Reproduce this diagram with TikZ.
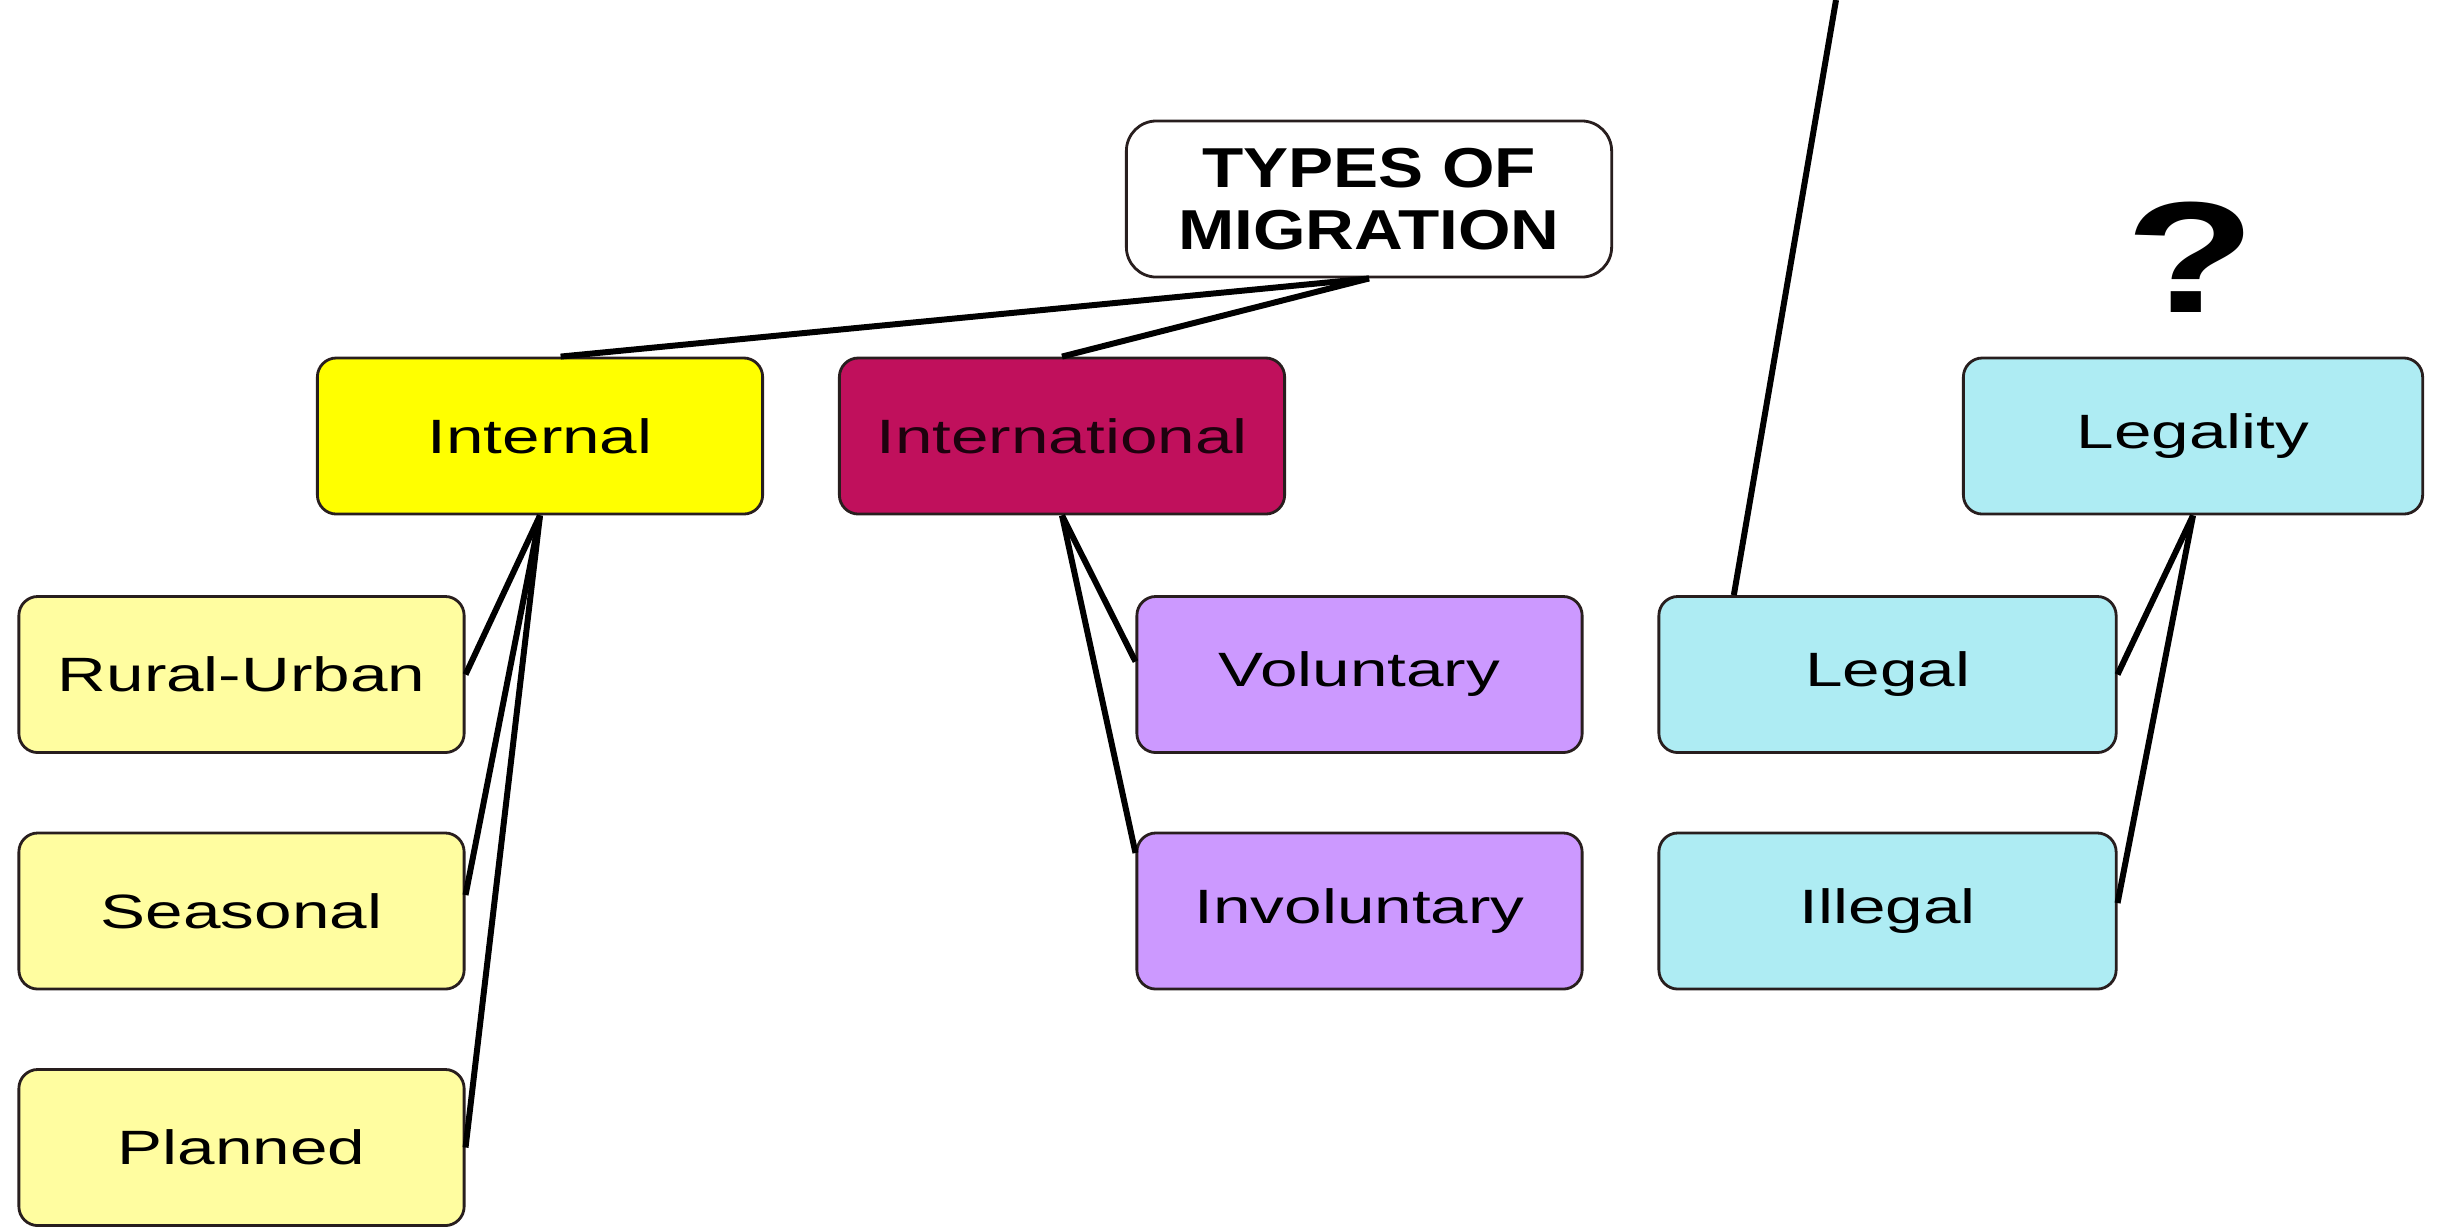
\documentclass[tikz,border=0pt]{standalone}
\usepackage{fontspec}
\setmainfont{Liberation Sans}[FakeStretch=1.4]
\newfontfamily\titlefont{Liberation Sans Bold}[FakeStretch=1.2]
\newfontfamily\qfont{Liberation Sans Bold}[FakeStretch=1.35]
\usetikzlibrary{calc}
\definecolor{intyellow}{RGB}{255,255,0}
\definecolor{paleyellow}{RGB}{255,253,160}
\definecolor{crimson}{RGB}{192,16,92}
\definecolor{lavender}{RGB}{204,153,255}
\definecolor{palecyan}{RGB}{174,236,243}
\definecolor{edge}{RGB}{40,30,30}
\tikzset{
  box/.style={draw=edge, line width=0.8pt, rounded corners=0.19cm,
    minimum width=4.45cm, minimum height=1.56cm, inner sep=0pt,
    font=\fontsize{13.7}{15}\selectfont},
  conn/.style={line width=1.7pt, black}
}
\begin{document}
\begin{tikzpicture}[x=0.01cm, y=-0.01cm]
\useasboundingbox (0,0) rectangle (2440,1229);
\node[box, fill=white, minimum width=4.85cm, rounded corners=0.3cm, align=center,
  font=\titlefont\fontsize{16}{17.7}\selectfont] (types) at (1369,199) {TYPES OF\\MIGRATION};
\node[box, fill=intyellow] (internal) at (540,436) {Internal};
\node[box, fill=crimson, text=black!85!crimson] (intl) at (1062,436) {International};
\node[box, fill=palecyan, minimum width=4.59cm] (legality) at (2193,436) {Legality};
\node[box, fill=paleyellow] (rural) at (241.5,674.5) {Rural-Urban};
\node[box, fill=paleyellow] (seasonal) at (241.5,911) {Seasonal};
\node[box, fill=paleyellow] (planned) at (241.5,1147.5) {Planned};
\node[box, fill=lavender] (vol) at (1359.5,674.5) {Voluntary};
\node[box, fill=lavender] (invol) at (1359.5,911) {Involuntary};
\node[box, fill=palecyan, minimum width=4.57cm] (legal) at (1887.5,674.5) {Legal};
\node[box, fill=palecyan, minimum width=4.57cm] (illegal) at (1887.5,911) {Illegal};
\node[inner sep=0pt, font=\qfont\fontsize{45}{50}\selectfont] (q) at (2191,257) {?};
\coordinate (top) at (1836,0);
\draw[conn] (types.south) -- ($(internal.north west)!0.546!(internal.north east)$);
\draw[conn] (types.south) -- (intl.north);
\draw[conn] (internal.south) -- (rural.east);
\draw[conn] (internal.south) -- ([yshift=0.16cm]seasonal.east);
\draw[conn] (internal.south) -- (planned.east);
\draw[conn] (intl.south) -- ([yshift=0.13cm]vol.west);
\draw[conn] (intl.south) -- ([yshift=0.58cm]invol.west);
\draw[conn] (legality.south) -- (legal.east);
\draw[conn] (legality.south) -- ([yshift=0.08cm]illegal.east);
\draw[conn] (top) -- ($(legal.north west)!0.166!(legal.north east)$);
\end{tikzpicture}
\end{document}
